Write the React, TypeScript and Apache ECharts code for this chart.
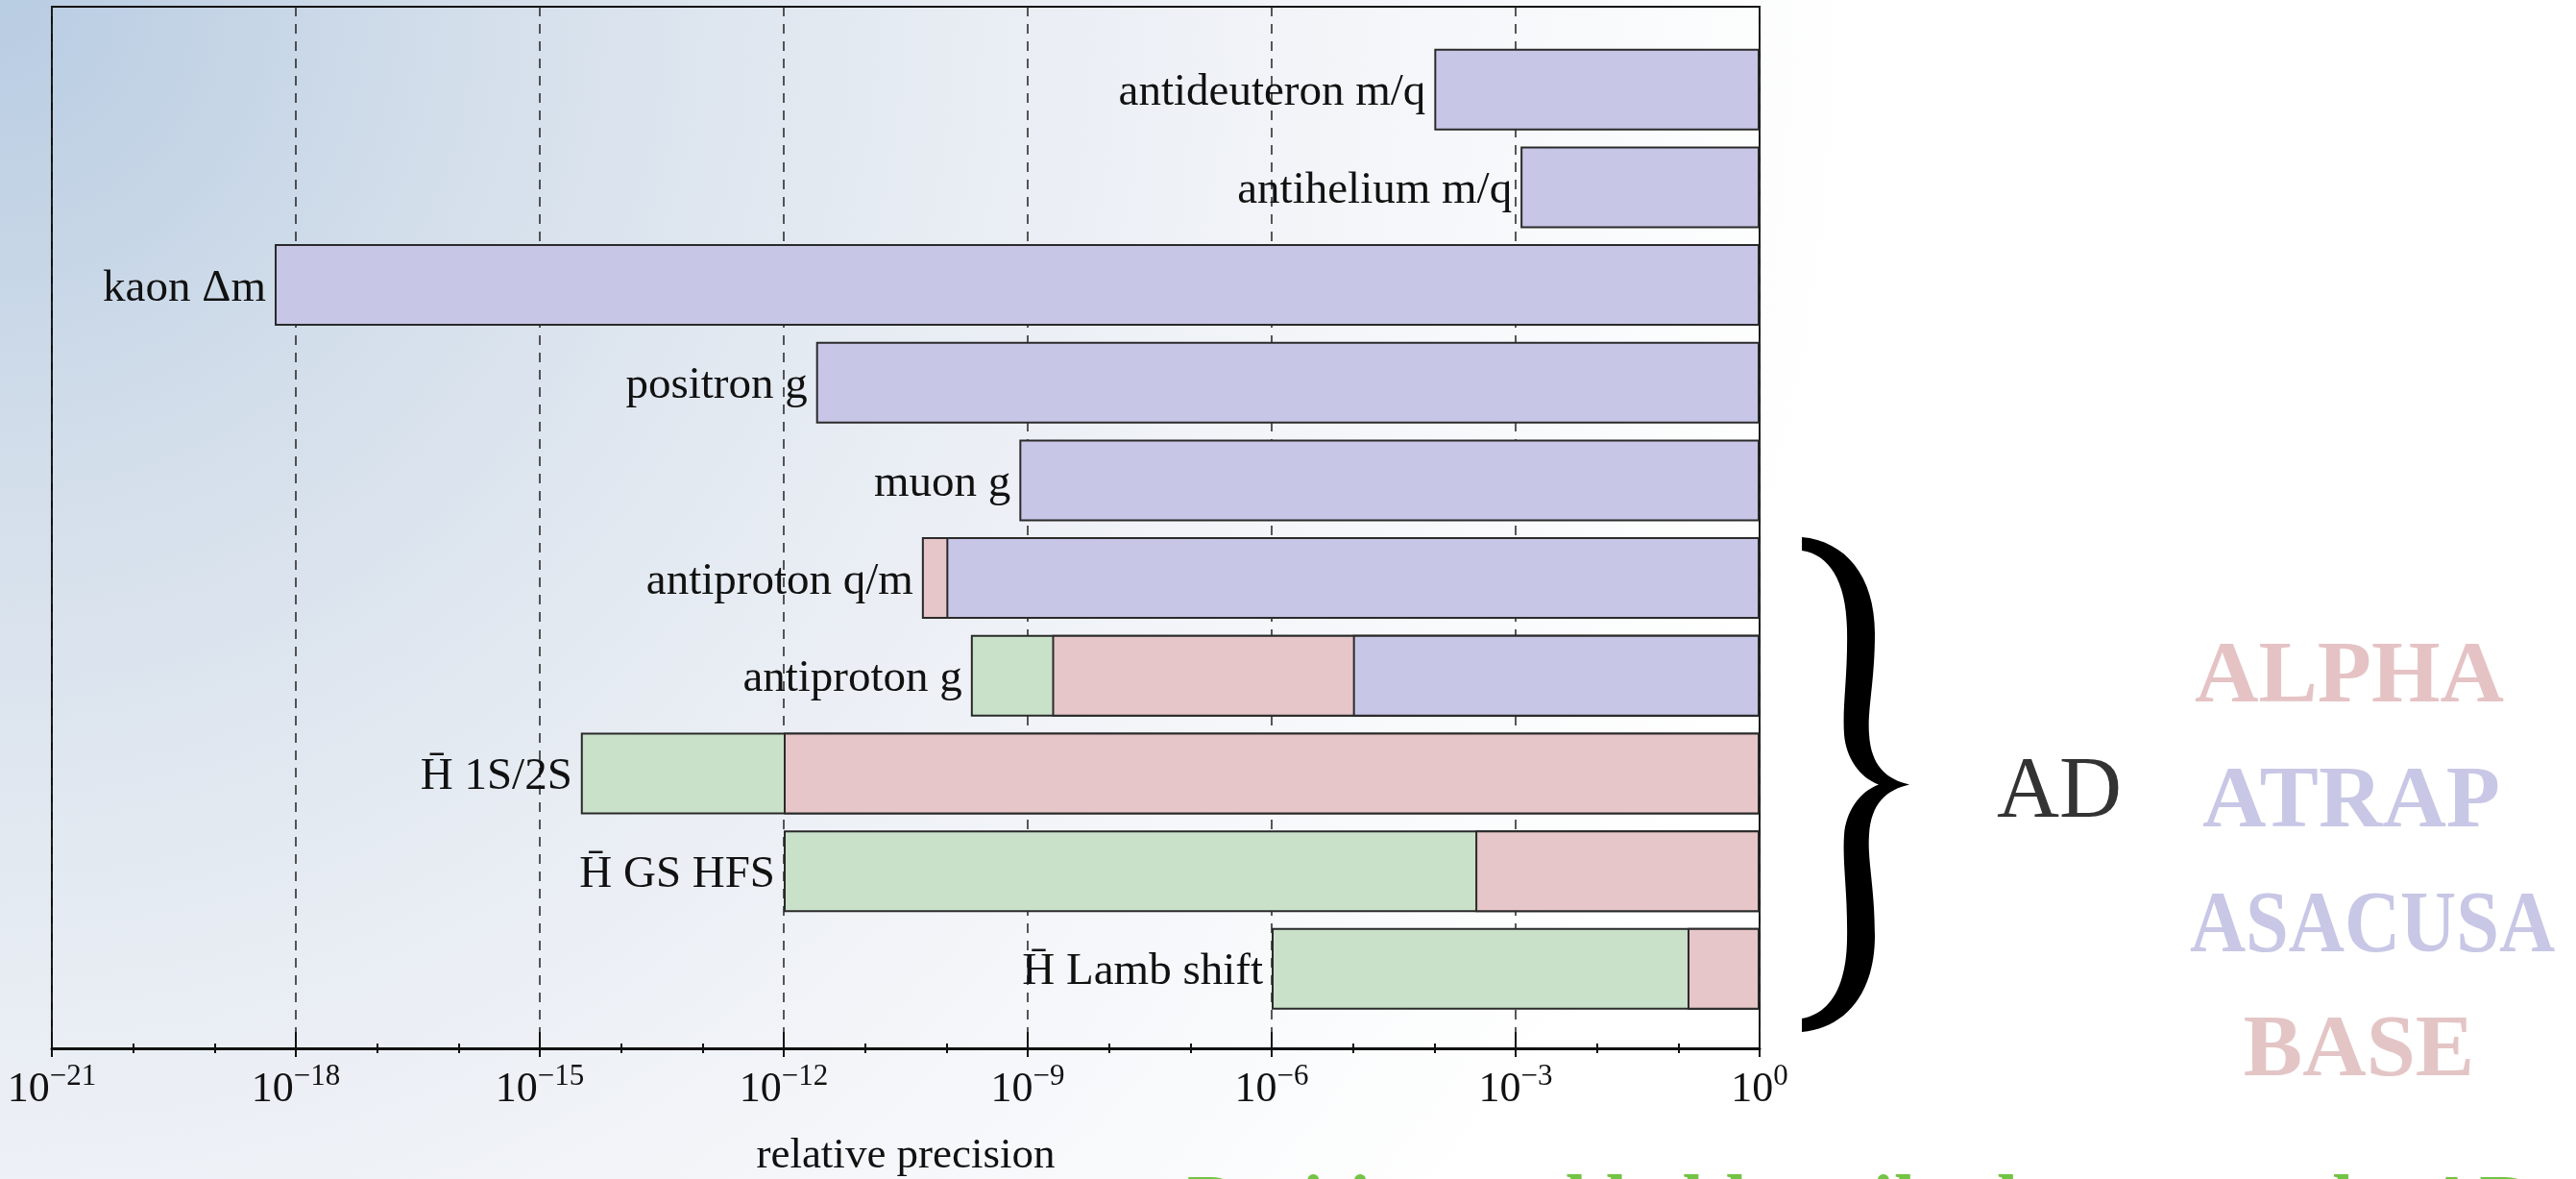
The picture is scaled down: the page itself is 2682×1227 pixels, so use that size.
import React, { useEffect, useRef } from 'react';
import * as echarts from 'echarts';

// ---------------- data ----------------
const categories = [
  'antideuteron m/q',
  'antihelium m/q',
  'kaon Δm',
  'positron g',
  'muon g',
  'antiproton q/m',
  'antiproton g',
  'H\u0304 1S/2S',
  'H\u0304 GS HFS',
  'H\u0304 Lamb shift',
];

// relative precision reached (null = no bar in that row)
const greenPrecision = [null, null, null, null, null, null, 2e-10, 3.2e-15, 1e-12, 1e-6];
const pinkPrecision = [null, null, null, null, null, 5e-11, 2e-9, 1e-12, 3.2e-4, 0.13];
const bluePrecision = [1e-4, 1.15e-3, 5.5e-19, 2.5e-12, 7.9e-10, 1e-10, 1e-5, null, null, null];

// axis: exponent range (10^-21 .. 10^0), labelled every 3 decades
const expMin = -21;
const expMax = 0;
const labelStep = 3;

const experiments = ['ALPHA', 'ATRAP', 'ASACUSA', 'BASE'];
const experimentColors = ['#e5c3c5', '#c8c7e6', '#c8c7e6', '#e4c5c6'];
const groupLabel = 'AD';
const footerText = 'Positive and held antihydrogen at the AD';

// ---------------- shapes ----------------
const BRACE_D =
  'M 0 0 C 45 4 76 40 76 100 C 76 150 68 180 70 205 C 72 238 88 252 112 257.5 ' +
  'C 88 263 72 277 70 310 C 68 335 76 365 76 415 C 76 475 45 511 0 515 L 0 501 ' +
  'C 28 496 46 470 47 420 C 48 370 42 340 44 310 C 46 285 60 265 80 257.5 ' +
  'C 60 250 46 230 44 205 C 42 175 48 145 47 95 C 46 45 28 18 0 14 Z';

let braceRegistered = false;
function ensureBrace() {
  if (braceRegistered) return;
  echarts.graphic.registerShape('brace', echarts.graphic.extendPath(BRACE_D, {}) as any);
  braceRegistered = true;
}

const SERIF = 'Liberation Serif';

export default function App() {
  const ref = useRef<HTMLDivElement>(null);

  useEffect(() => {
    if (!ref.current) return;
    ensureBrace();
    const chart = echarts.init(ref.current, undefined, { renderer: 'svg' });

    const seriesDefs = [
      { name: 'green', values: greenPrecision, color: '#c9e1c9' },
      { name: 'pink', values: pinkPrecision, color: '#e6c6c8' },
      { name: 'blue', values: bluePrecision, color: '#c8c6e6' },
    ];
    const exps = seriesDefs.map((s) => s.values.map((v) => (v == null ? null : Math.log10(v))));
    const leftmost = categories.map((_, i) => {
      let best = -1;
      let bv = Infinity;
      exps.forEach((e, si) => {
        const v = e[i];
        if (v != null && v < bv) {
          bv = v;
          best = si;
        }
      });
      return best;
    });

    const series = seriesDefs.map((s, si) => ({
      type: 'bar',
      name: s.name,
      xAxisIndex: 2,
      yAxisIndex: 1,
      barWidth: 85,
      barGap: '-100%',
      itemStyle: { color: s.color, borderColor: '#2a2a2a', borderWidth: 2 },
      label: {
        show: false,
        position: 'left',
        distance: 9,
        formatter: (p: any) => categories[p.dataIndex],
        fontFamily: SERIF,
        fontSize: 47,
        color: '#111',
      },
      data: exps[si].map((v, i) =>
        v == null ? null : { value: v, label: { show: leftmost[i] === si } }
      ),
    }));

    const tickFormatter = (v: number) => {
      const e = Math.round(v);
      return `{b|10}{s|${e === 0 ? '0' : '\u2212' + -e}}`;
    };

    const option: any = {
      animation: false,
      grid: [
        {
          left: 54,
          right: 850,
          top: 7,
          bottom: 134.5,
          show: true,
          borderColor: '#111',
          borderWidth: 2,
          backgroundColor: 'transparent',
        },
        { left: 54, right: 850, top: 42.35, bottom: 167.8 },
      ],
      xAxis: [
        {
          gridIndex: 0,
          type: 'value',
          min: expMin,
          max: expMax,
          interval: labelStep,
          position: 'bottom',
          axisLine: { show: true, onZero: false, lineStyle: { color: '#111', width: 3 } },
          axisTick: { show: true, inside: true, length: 17, lineStyle: { color: '#111', width: 2 } },
          minorTick: { show: true, splitNumber: 3, length: 5, lineStyle: { color: '#111', width: 2 } },
          splitLine: { show: true, lineStyle: { color: '#222', width: 1.5, type: [10, 8] } },
          axisLabel: {
            show: true,
            margin: 12,
            showMinLabel: true,
            showMaxLabel: true,
            hideOverlap: false,
            formatter: tickFormatter,
            rich: {
              b: { fontFamily: SERIF, fontSize: 44, lineHeight: 56, color: '#111' },
              s: { fontFamily: SERIF, fontSize: 31, lineHeight: 33, verticalAlign: 'top', color: '#111' },
            },
          },
          name: 'relative precision',
          nameLocation: 'middle',
          nameGap: 86,
          nameTextStyle: { fontFamily: SERIF, fontSize: 45, color: '#111' },
        },
        {
          gridIndex: 0,
          type: 'value',
          min: expMin,
          max: expMax,
          interval: labelStep,
          position: 'bottom',
          axisLine: { show: false, onZero: false },
          axisTick: { show: true, inside: false, length: 9, lineStyle: { color: '#111', width: 2 } },
          minorTick: { show: true, splitNumber: 3, length: 5, lineStyle: { color: '#111', width: 2 } },
          splitLine: { show: false },
          axisLabel: { show: false },
        },
        { gridIndex: 1, type: 'value', min: expMin, max: expMax, show: false },
      ],
      yAxis: [
        { gridIndex: 0, type: 'value', show: false },
        { gridIndex: 1, type: 'category', data: categories, inverse: true, show: false },
      ],
      series,
      graphic: [
        { type: 'brace', x: 1876, y: 559, style: { fill: '#000' }, z: 10 },
        {
          type: 'text',
          x: 2144,
          y: 819,
          style: {
            text: groupLabel,
            fontFamily: SERIF,
            fontSize: 90,
            fill: '#333',
            align: 'center',
            verticalAlign: 'middle',
          },
        },
        ...experiments.map((name, i) => ({
          type: 'text',
          x: [2446, 2448, 2470, 2456][i],
          y: [699, 829, 959, 1088][i],
          scaleX: name === 'ASACUSA' ? 0.875 : 1,
          style: {
            text: name,
            fontFamily: SERIF,
            fontWeight: 'bold',
            fontSize: 92,
            fill: experimentColors[i],
            align: 'center',
            verticalAlign: 'middle',
          },
        })),
        {
          type: 'text',
          x: 1236,
          y: 1251,
          style: {
            text: footerText,
            fontFamily: SERIF,
            fontWeight: 'bold',
            fontSize: 80,
            fill: '#72c444',
            align: 'left',
            verticalAlign: 'middle',
          },
        },
      ],
    };

    chart.setOption(option);
    return () => chart.dispose();
  }, []);

  return (
    <div
      ref={ref}
      style={{
        position: 'fixed',
        left: 0,
        top: 0,
        width: 2682,
        height: 1227,
        background:
          'radial-gradient(1950px 2000px at 0px 0px, #b8cce2 0%, #d4dfeb 26%, #e7ecf3 50%, #f3f5f9 72%, #fafbfc 88%, #ffffff 100%)',
      }}
    />
  );
}
